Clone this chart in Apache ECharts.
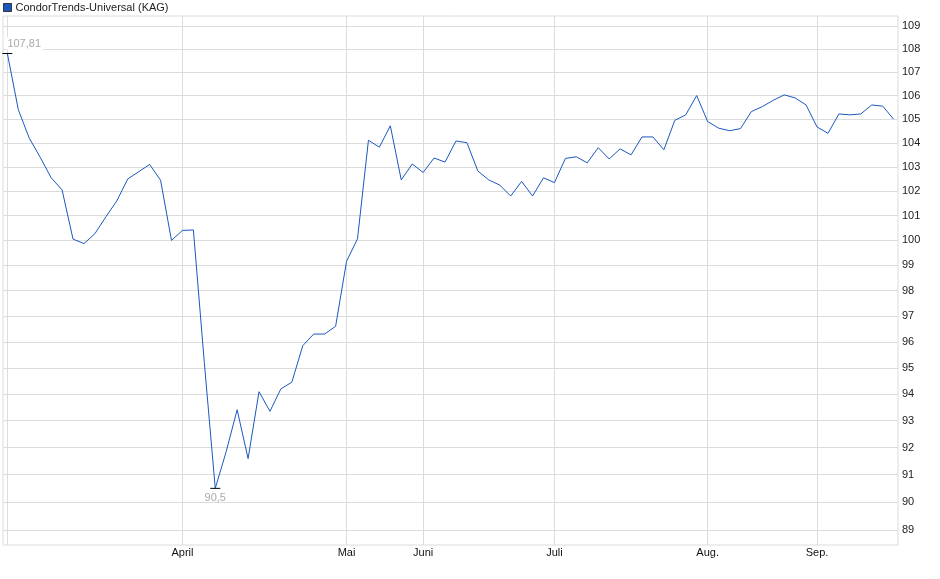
<!DOCTYPE html>
<html>
<head>
<meta charset="utf-8">
<script src="https://cdn.jsdelivr.net/npm/echarts@6/dist/echarts.min.js"></script>
<style>
html,body{margin:0;padding:0;background:#fff;}
#chart{width:940px;height:579px;}
</style>
</head>
<body>
<div id="chart"></div>
<script>
// Series values (one point per trading observation, left to right)
const seriesName = 'CondorTrends-Universal (KAG)';
const values = [
  107.81, 105.4, 104.2, 103.4, 102.55, 102.05, 100.05, 99.87, 100.27, 100.95,
  101.6, 102.5, 102.8, 103.1, 102.45, 100.0, 100.4, 100.42, 95.2, 90.5,
  91.85, 93.41, 91.59, 94.09, 93.35, 94.2, 94.45, 95.85, 96.3, 96.3,
  96.6, 99.16, 100.06, 104.11, 103.82, 104.72, 102.46, 103.12, 102.77, 103.37,
  103.2, 104.08, 104.01, 102.83, 102.46, 102.25, 101.8, 102.4, 101.8, 102.55,
  102.35, 103.35, 103.42, 103.17, 103.8, 103.33, 103.75, 103.5, 104.25, 104.25,
  103.71, 104.95, 105.18, 106.0, 104.9, 104.62, 104.51, 104.6, 105.32, 105.53,
  105.8, 106.03, 105.9, 105.6, 104.67, 104.4, 105.22, 105.18, 105.22, 105.6,
  105.55, 105.0
];
// Month boundaries (point index) and their labels
const monthIndex = [0, 16, 31, 38, 50, 64, 74];
const monthLabels = ['', 'April', 'Mai', 'Juni', 'Juli', 'Aug.', 'Sep.'];
// Y tick labels (log scale)
const yTicks = [89,90,91,92,93,94,95,96,97,98,99,100,101,102,103,104,105,106,107,108,109];
const yMin = 88.46, yMax = 109.45;

const font = '"Liberation Sans", Arial, sans-serif';
const lineColor = '#1a58bf';
const fmt = v => Number(v.toFixed(2)).toString().replace('.', ',');

const chart = echarts.init(document.getElementById('chart'), null, {renderer: 'canvas'});
chart.setOption({
  animation: false,
  textStyle: {fontFamily: font},
  legend: {
    left: 3, top: 2, padding: 0,
    itemWidth: 8, itemHeight: 8, itemGap: 5,
    icon: 'rect',
    data: [{name: seriesName, itemStyle: {color: lineColor, borderColor: '#333', borderWidth: 1}}],
    textStyle: {fontSize: 11, color: '#222', fontFamily: font, padding: [0,0,0,-1]}
  },
  grid: {
    left: 3, right: 42, top: 16, bottom: 34,
    show: true, borderColor: '#dcdcdc', borderWidth: 1
  },
  xAxis: {
    type: 'value',
    min: -0.4, max: 81.4,
    axisLine: {show: false},
    axisTick: {show: false, customValues: monthIndex},
    splitLine: {show: true, lineStyle: {color: '#dcdcdc', width: 1}},
    axisLabel: {
      customValues: monthIndex,
      margin: 2,
      fontSize: 11, color: '#111', fontFamily: font,
      formatter: v => monthLabels[monthIndex.indexOf(Math.round(v))] || ''
    }
  },
  yAxis: {
    type: 'value',
    position: 'right',
    min: Math.log(yMin), max: Math.log(yMax),
    axisLine: {show: false},
    axisTick: {show: false, customValues: yTicks.map(v => Math.log(v))},
    splitLine: {show: true, lineStyle: {color: '#dcdcdc', width: 1}},
    axisLabel: {
      customValues: yTicks.map(v => Math.log(v)),
      margin: 4,
      fontSize: 11, color: '#222', fontFamily: font,
      formatter: v => String(Math.round(Math.exp(v)))
    }
  },
  series: [{
    name: seriesName,
    type: 'line',
    data: values.map((v, i) => [i, Math.log(v)]),
    showSymbol: false,
    symbol: 'none',
    color: lineColor,
    lineStyle: {color: lineColor, width: 1},
    markPoint: {
      symbol: 'rect',
      symbolSize: [10, 1],
      itemStyle: {color: '#000'},
      silent: true,
      data: [
        {type: 'max', label: {
          position: [4, -16], align: 'left', verticalAlign: 'top',
          backgroundColor: '#fff', padding: [1, 2, 1, 1]
        }},
        {type: 'min', label: {position: 'bottom', distance: 4}}
      ],
      label: {
        show: true, fontSize: 11, color: '#aaa', fontFamily: font,
        formatter: p => fmt(Math.exp(p.value))
      }
    }
  }]
});
</script>
</body>
</html>
